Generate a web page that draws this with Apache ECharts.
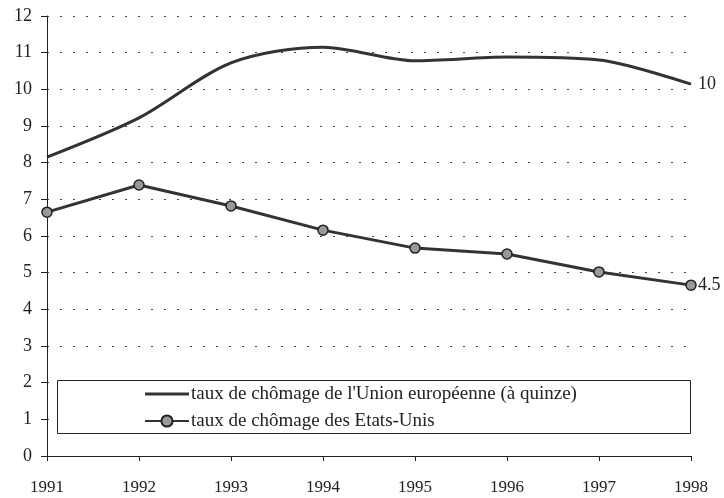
<!DOCTYPE html>
<html>
<head>
<meta charset="utf-8">
<script src="https://cdn.jsdelivr.net/npm/echarts@6/dist/echarts.min.js"></script>
<style>html,body{margin:0;padding:0;background:#fff}#c{width:724px;height:498px}</style>
</head>
<body>
<div id="c"></div>
<script>
const years = ['1991','1992','1993','1994','1995','1996','1997','1998'];
const euValues = [8.15, 9.22, 10.72, 11.15, 10.78, 10.88, 10.8, 10.14];
const usValues = [6.65, 7.39, 6.82, 6.16, 5.67, 5.51, 5.02, 4.66];
const euName = "taux de chômage de l'Union européenne (à quinze)";
const usName = "taux de chômage des Etats-Unis";
const euEndLabel = '10';
const usEndLabel = '4.5';
const yTicks = [0,1,2,3,4,5,6,7,8,9,10,11,12];

const FONT = '"Liberation Serif", "DejaVu Serif", serif';
const chart = echarts.init(document.getElementById('c'), null, {renderer: 'canvas'});
chart.setOption({
  animation: false,
  backgroundColor: '#fff',
  textStyle: {fontFamily: FONT, color: '#222'},
  grid: {left: 47, right: 33, top: 16, bottom: 42, containLabel: false},
  graphic: [{
    type: 'rect', left: 57, top: 380, z: 5,
    shape: {width: 633, height: 53},
    style: {fill: 'rgba(255,255,255,1)', stroke: '#222', lineWidth: 1}
  }],
  legend: {
    orient: 'vertical', left: 144, top: 384, z: 10, padding: 0,
    itemWidth: 44, itemHeight: 14, itemGap: 7,
    textStyle: {fontFamily: FONT, fontSize: 19, lineHeight: 20, color: '#222', padding: [0,0,0,-3]},
    data: [{name: euName, icon: 'path://M0,6 L44,6 L44,9 L0,9 Z'}, {name: usName}]
  },
  xAxis: {
    type: 'category', data: years, boundaryGap: false,
    axisLine: {lineStyle: {color: '#222', width: 1}},
    axisTick: {show: true, inside: false, length: 5, lineStyle: {color: '#222'}},
    axisLabel: {fontFamily: FONT, fontSize: 17, color: '#222', margin: 23},
    splitLine: {show: false}
  },
  yAxis: {
    type: 'value', min: 0, max: 12, interval: 1,
    axisLine: {show: true, lineStyle: {color: '#222', width: 1}},
    axisTick: {show: true, length: 6, lineStyle: {color: '#222'}},
    axisLabel: {fontFamily: FONT, fontSize: 18, color: '#222', margin: 15,
      formatter: v => yTicks.includes(v) ? String(v) : ''},
    splitLine: {show: true, lineStyle: {type: [2, 11], color: '#444', width: 1}}
  },
  series: [
    {
      name: euName, type: 'line', data: euValues, smooth: 0.3,
      symbol: 'none', showSymbol: false,
      lineStyle: {color: '#333', width: 3},
      itemStyle: {color: '#333'},
      endLabel: {show: true, formatter: () => euEndLabel, fontFamily: FONT, fontSize: 18, color: '#222', distance: 7},
      z: 3
    },
    {
      name: usName, type: 'line', data: usValues, smooth: false,
      symbol: 'circle', symbolSize: 10,
      lineStyle: {color: '#333', width: 3},
      itemStyle: {color: '#999', borderColor: '#222', borderWidth: 1.5},
      endLabel: {show: true, formatter: () => usEndLabel, fontFamily: FONT, fontSize: 18, color: '#222', distance: 7},
      z: 3
    }
  ]
});
</script>
</body>
</html>
